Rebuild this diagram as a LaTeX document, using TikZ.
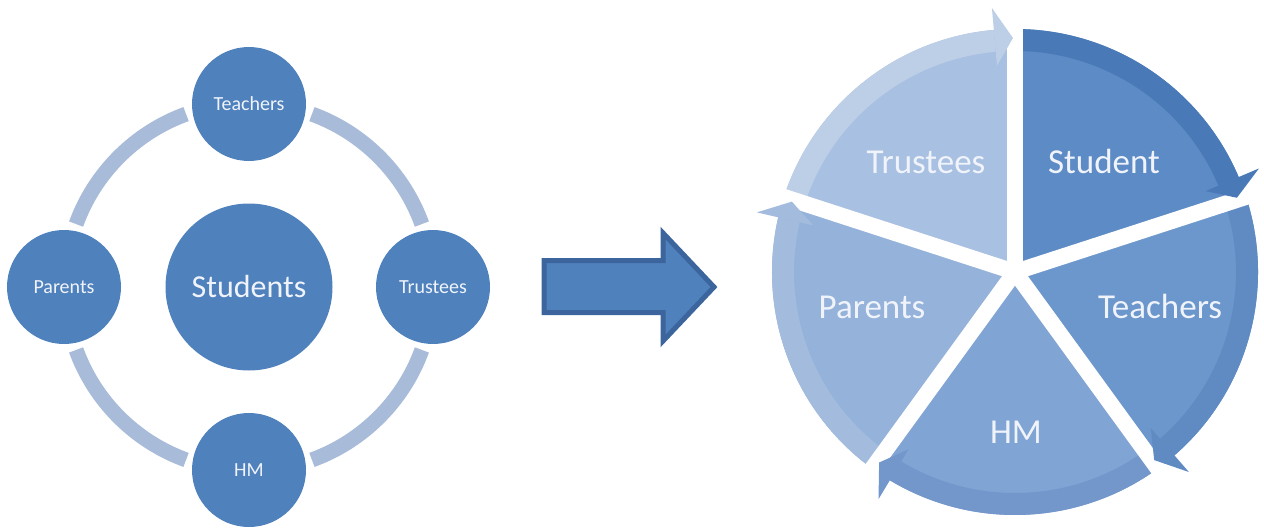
\documentclass[tikz,border=0pt]{standalone}
\usepackage{fontspec}
\setmainfont{Carlito}

\definecolor{discblue}{HTML}{4F81BD}
\definecolor{ringblue}{HTML}{A8BBD9}
\definecolor{arrowedge}{HTML}{3B659C}
\definecolor{studentfill}{HTML}{5D8BC5}
\definecolor{studentband}{HTML}{4A79B8}
\definecolor{teacherfill}{HTML}{6C97CC}
\definecolor{teacherband}{HTML}{5F8AC2}
\definecolor{hmfill}{HTML}{80A4D3}
\definecolor{hmband}{HTML}{7397CB}
\definecolor{parentfill}{HTML}{94B2DA}
\definecolor{parentband}{HTML}{A3BCDD}
\definecolor{trusteefill}{HTML}{A8C0E1}
\definecolor{trusteeband}{HTML}{BDCEE7}
\definecolor{labeltext}{HTML}{F0F4FA}

\tikzset{
  hubdisc/.style={circle,fill=discblue,text=labeltext,inner sep=0pt,minimum size=167,
    font=\fontsize{32}{38}\selectfont},
  satdisc/.style={circle,fill=discblue,text=labeltext,inner sep=0pt,minimum size=114,
    font=\fontsize{20}{24}\selectfont},
  ringarc/.style={draw=ringblue,line width=15},
  gapline/.style={draw=white,line width=16},
  pielabel/.style={anchor=base,text=labeltext,inner sep=0pt,font=\fontsize{35}{42}\selectfont}
}

\begin{document}
\begin{tikzpicture}[x=1pt,y=-1pt]
  \useasboundingbox (0,0) rectangle (1264,532);

  % a) circle of people round the students
  \node[hubdisc] (students) at (249,287) {Students};
  \foreach \a in {20,110,200,290} {
    \draw[ringarc] ([shift={(\a:184)}]students.center) arc[start angle=\a,end angle=\a+50,radius=184];
  }
  \node[satdisc] (teachers) at (249,104) {Teachers};
  \node[satdisc] (parents) at (64,287) {Parents};
  \node[satdisc] (trustees) at (433,287) {Trustees};
  \node[satdisc] (hm) at (249,470) {HM};

  % block arrow
  \draw[fill=discblue,draw=arrowedge,line width=5,miter limit=4]
    (544,260.5) -- (663,260.5) -- (663,233) -- (714,287) -- (663,341) -- (663,312.5) -- (544,312.5) -- cycle;

  % b) segmented cycle
  \coordinate (pie) at (1015,272);
  \foreach \s/\fc/\bc in {-90/studentfill/studentband,-18/teacherfill/teacherband,
      54/hmfill/hmband,126/parentfill/parentband,198/trusteefill/trusteeband} {
    \fill[\fc] (pie) -- ([shift={(\s:243)}]pie) arc[start angle=\s,delta angle=72,radius=243] -- cycle;
    \fill[\bc] ([shift={(\s:243)}]pie) arc[start angle=\s,delta angle=67,radius=243]
      -- ([shift={(\s+67:221)}]pie) arc[start angle=\s+67,delta angle=-67,radius=221] -- cycle;
  }
  \foreach \a in {-90,-18,54,126,198} {
    \draw[gapline] (pie) -- ++(\a:252);
  }
  \foreach \s/\bc in {-90/studentband,-18/teacherband,54/hmband,126/parentband,198/trusteeband} {
    \fill[\bc] ([shift={(\s+67:207)}]pie) -- ([shift={(\s+67:265)}]pie) -- ([shift={(\s+71.5:234)}]pie) -- cycle;
  }
  \node[pielabel] (student) at (1104,173) {Student};
  \node[pielabel] (teacherslbl) at (1160,318) {Teachers};
  \node[pielabel] (hmlbl) at (1016,443) {HM};
  \node[pielabel] (parentslbl) at (872,318) {Parents};
  \node[pielabel] (trusteeslbl) at (926,173) {Trustees};

\end{tikzpicture}
\end{document}
